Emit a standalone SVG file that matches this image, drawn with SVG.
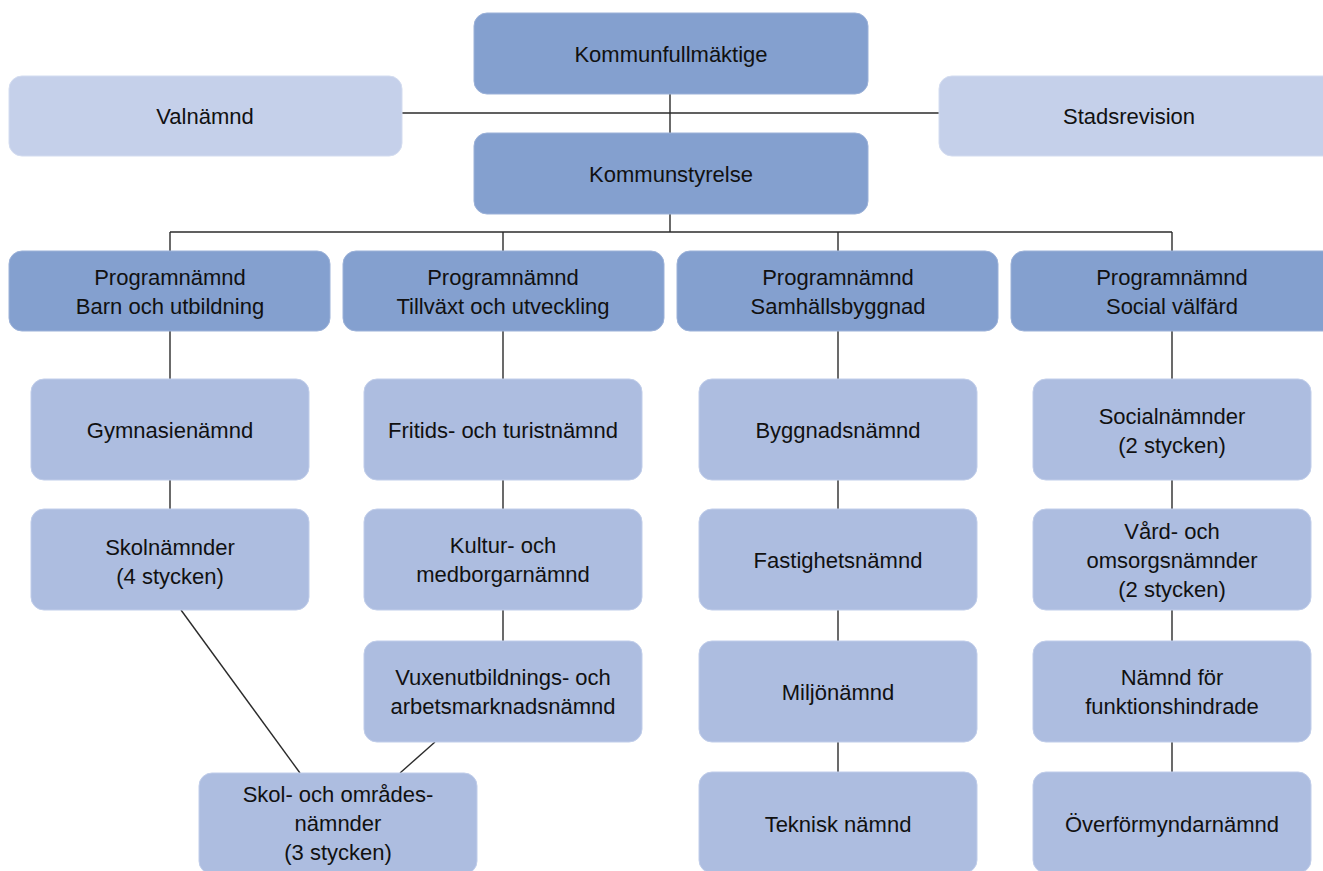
<svg xmlns="http://www.w3.org/2000/svg" width="1323" height="871" viewBox="0 0 1323 871">
<style>
  .dark{fill:#84a0cf;stroke:#9bb1d8;stroke-width:1}
  .mid{fill:#adbde0;stroke:#c0cdea;stroke-width:1}
  .light{fill:#c5d0ea;stroke:#d3dcf0;stroke-width:1}
  text{font-family:"Liberation Sans",Arial,sans-serif;font-size:22px;fill:#111;text-anchor:middle}
  .conn line{stroke:#2b2b2b;stroke-width:1.4;fill:none}
</style>
<rect width="1323" height="871" fill="#ffffff"/>
<g class="conn" id="connectors">
  <line x1="670" y1="94" x2="670" y2="133"/>
  <line x1="402" y1="113" x2="939" y2="113"/>
  <line x1="670" y1="214" x2="670" y2="232"/>
  <line x1="170" y1="232" x2="1172" y2="232"/>
  <line x1="170" y1="232" x2="170" y2="251"/>
  <line x1="503" y1="232" x2="503" y2="251"/>
  <line x1="838" y1="232" x2="838" y2="251"/>
  <line x1="1172" y1="232" x2="1172" y2="251"/>
  <line x1="170" y1="331" x2="170" y2="379"/>
  <line x1="170" y1="480" x2="170" y2="509"/>
  <line x1="503" y1="331" x2="503" y2="379"/>
  <line x1="503" y1="480" x2="503" y2="509"/>
  <line x1="503" y1="610" x2="503" y2="641"/>
  <line x1="838" y1="331" x2="838" y2="379"/>
  <line x1="838" y1="480" x2="838" y2="509"/>
  <line x1="838" y1="610" x2="838" y2="641"/>
  <line x1="838" y1="742" x2="838" y2="772"/>
  <line x1="1172" y1="331" x2="1172" y2="379"/>
  <line x1="1172" y1="480" x2="1172" y2="509"/>
  <line x1="1172" y1="610" x2="1172" y2="641"/>
  <line x1="1172" y1="742" x2="1172" y2="772"/>
  <line x1="181" y1="610" x2="300" y2="773"/>
  <line x1="435" y1="742" x2="400" y2="773"/>
</g>
<g id="kommunfullmaktige"><rect class="dark" x="474" y="13" width="394" height="81" rx="13"/><text x="671" y="62">Kommunfullmäktige</text></g>
<g id="valnamnd"><rect class="light" x="9" y="76" width="393" height="80" rx="13"/><text x="205" y="124">Valnämnd</text></g>
<g id="stadsrevision"><rect class="light" x="939" y="76" width="400" height="80" rx="13"/><text x="1129" y="124">Stadsrevision</text></g>
<g id="kommunstyrelse"><rect class="dark" x="474" y="133" width="394" height="81" rx="13"/><text x="671" y="182">Kommunstyrelse</text></g>

<g id="pn-barn"><rect class="dark" x="9" y="251" width="321" height="80" rx="13"/><text x="170" y="285">Programnämnd</text><text x="170" y="314">Barn och utbildning</text></g>
<g id="pn-tillvaxt"><rect class="dark" x="343" y="251" width="321" height="80" rx="13"/><text x="503" y="285">Programnämnd</text><text x="503" y="314">Tillväxt och utveckling</text></g>
<g id="pn-samhall"><rect class="dark" x="677" y="251" width="321" height="80" rx="13"/><text x="838" y="285">Programnämnd</text><text x="838" y="314">Samhällsbyggnad</text></g>
<g id="pn-social"><rect class="dark" x="1011" y="251" width="330" height="80" rx="13"/><text x="1172" y="285">Programnämnd</text><text x="1172" y="314">Social välfärd</text></g>

<g id="gymnasienamnd"><rect class="mid" x="31" y="379" width="278" height="101" rx="13"/><text x="170" y="438">Gymnasienämnd</text></g>
<g id="skolnamnder"><rect class="mid" x="31" y="509" width="278" height="101" rx="13"/><text x="170" y="555">Skolnämnder</text><text x="170" y="584">(4 stycken)</text></g>
<g id="skol-omrades"><rect class="mid" x="199" y="773" width="278" height="101" rx="13"/><text x="338" y="802">Skol- och områdes-</text><text x="338" y="831">nämnder</text><text x="338" y="860">(3 stycken)</text></g>

<g id="fritids"><rect class="mid" x="364" y="379" width="278" height="101" rx="13"/><text x="503" y="438">Fritids- och turistnämnd</text></g>
<g id="kultur"><rect class="mid" x="364" y="509" width="278" height="101" rx="13"/><text x="503" y="553">Kultur- och</text><text x="503" y="582">medborgarnämnd</text></g>
<g id="vuxen"><rect class="mid" x="364" y="641" width="278" height="101" rx="13"/><text x="503" y="685">Vuxenutbildnings- och</text><text x="503" y="714">arbetsmarknadsnämnd</text></g>

<g id="byggnad"><rect class="mid" x="699" y="379" width="278" height="101" rx="13"/><text x="838" y="438">Byggnadsnämnd</text></g>
<g id="fastighet"><rect class="mid" x="699" y="509" width="278" height="101" rx="13"/><text x="838" y="568">Fastighetsnämnd</text></g>
<g id="miljo"><rect class="mid" x="699" y="641" width="278" height="101" rx="13"/><text x="838" y="700">Miljönämnd</text></g>
<g id="teknisk"><rect class="mid" x="699" y="772" width="278" height="101" rx="13"/><text x="838" y="832">Teknisk nämnd</text></g>

<g id="socialnamnder"><rect class="mid" x="1033" y="379" width="278" height="101" rx="13"/><text x="1172" y="424">Socialnämnder</text><text x="1172" y="453">(2 stycken)</text></g>
<g id="vard"><rect class="mid" x="1033" y="509" width="278" height="101" rx="13"/><text x="1172" y="539">Vård- och</text><text x="1172" y="568">omsorgsnämnder</text><text x="1172" y="597">(2 stycken)</text></g>
<g id="funktionshindrade"><rect class="mid" x="1033" y="641" width="278" height="101" rx="13"/><text x="1172" y="685">Nämnd för</text><text x="1172" y="714">funktionshindrade</text></g>
<g id="overformyndar"><rect class="mid" x="1033" y="772" width="278" height="101" rx="13"/><text x="1172" y="832">Överförmyndarnämnd</text></g>
</svg>
